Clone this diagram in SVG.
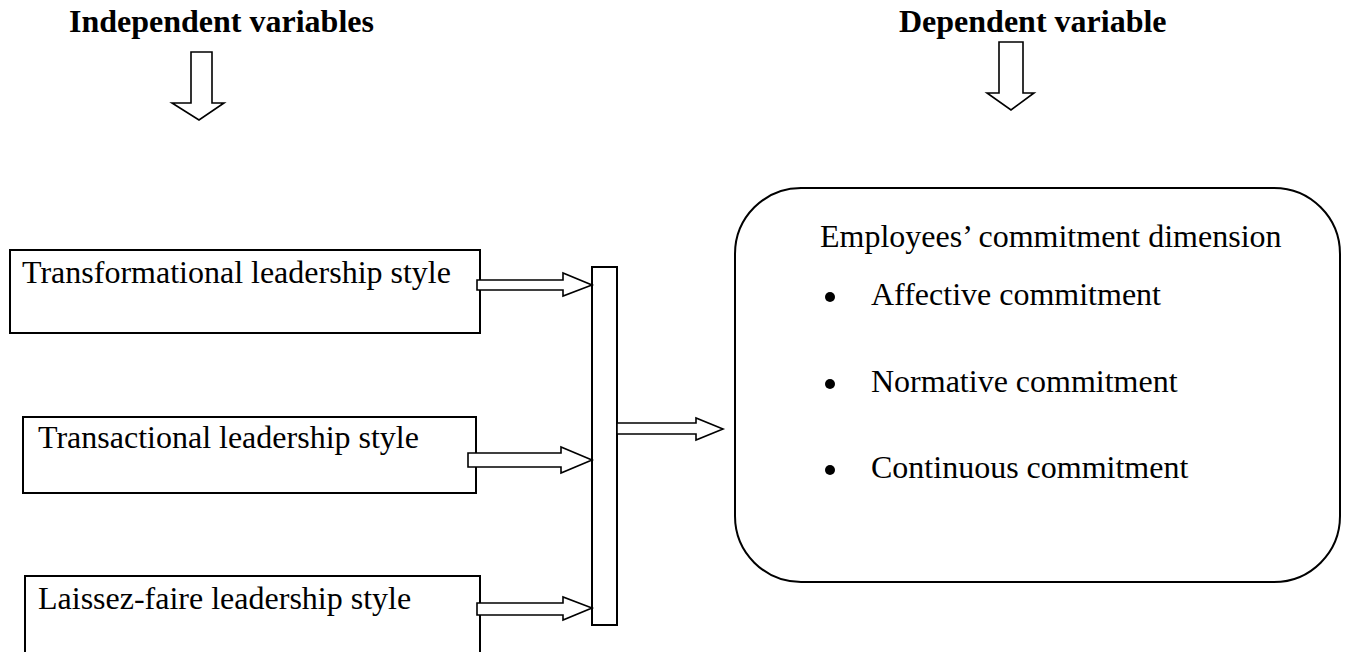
<svg xmlns="http://www.w3.org/2000/svg" width="1348" height="652" viewBox="0 0 1348 652">
<style>
.box{fill:#fff;stroke:#000;stroke-width:2}
.arr{fill:#fff;stroke:#000;stroke-width:1.6;stroke-linejoin:miter}
.t{font-family:"Liberation Serif","Times New Roman",serif;font-size:32px;fill:#000}
.h{font-family:"Liberation Serif","Times New Roman",serif;font-size:32px;font-weight:bold;fill:#000}
.dot{fill:#000}
</style>
<rect width="1348" height="652" fill="#fff"/>
<g id="header-independent">
<text class="h" x="69" y="32">Independent variables</text>
<path class="arr" d="M191,52 H212 V103 H224 L199,120 L172,103 H191 Z"/>
</g>
<g id="header-dependent">
<text class="h" x="899" y="32">Dependent variable</text>
<path class="arr" d="M999,42 H1023 V93 H1034 L1011,110 L987,93 H999 Z"/>
</g>
<g id="node-transformational">
<rect class="box" x="10" y="250" width="470" height="83"/>
<text class="t" x="22" y="283">Transformational leadership style</text>
</g>
<g id="node-transactional">
<rect class="box" x="23" y="417" width="453" height="76"/>
<text class="t" x="38" y="448">Transactional leadership style</text>
</g>
<g id="node-laissez">
<rect class="box" x="25" y="576" width="455" height="90"/>
<text class="t" x="38" y="609">Laissez-faire leadership style</text>
</g>
<g id="node-bar">
<rect class="box" x="592" y="267" width="25" height="358"/>
</g>
<g id="node-commitment">
<rect class="box" x="735" y="188" width="605" height="394" rx="66" ry="66"/>
<text class="t" x="820" y="247">Employees’ commitment dimension</text>
<circle class="dot" cx="830" cy="297" r="5"/>
<text class="t" x="871" y="305">Affective commitment</text>
<circle class="dot" cx="830" cy="384" r="5"/>
<text class="t" x="871" y="392">Normative commitment</text>
<circle class="dot" cx="830" cy="470" r="5"/>
<text class="t" x="871" y="478">Continuous commitment</text>
</g>
<g id="connectors">
<path class="arr" d="M477,280 H563 V273 L592,285 L563,296 V290 H477 Z"/>
<path class="arr" d="M468,453 H561 V447 L592,460 L561,473 V467 H468 Z"/>
<path class="arr" d="M477,603 H563 V597 L592,608 L563,620 V615 H477 Z"/>
<path class="arr" d="M617,423 H696 V418 L723,429 L696,440 V434 H617 Z"/>
</g>
</svg>
